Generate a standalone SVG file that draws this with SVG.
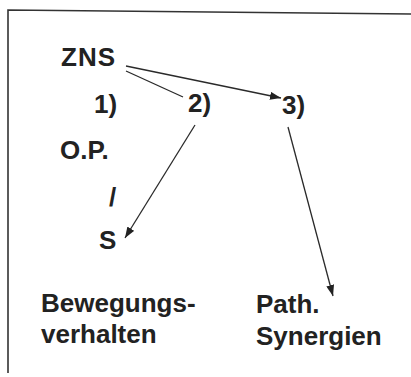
<svg xmlns="http://www.w3.org/2000/svg" width="411" height="377" viewBox="0 0 411 377">
  <defs>
    <style>
      .t { font-family: "Liberation Sans", Arial, sans-serif; font-weight: bold; font-size: 26px; fill: #222; }
      .c { stroke: #2a2a2a; stroke-width: 1.3; fill: none; }
      .frame { stroke: #333; stroke-width: 1.6; fill: none; }
    </style>
    <marker id="ah" markerUnits="userSpaceOnUse" markerWidth="11" markerHeight="8" refX="11" refY="4" orient="auto">
      <path d="M0,0 L11,4 L0,8 z" fill="#222"/>
    </marker>
  </defs>
  <rect width="411" height="377" fill="#fff"/>
  <path class="frame" d="M8,373 L8,10 L411,14"/>
  <g id="n-zns"><text class="t" x="61" y="66" letter-spacing="1">ZNS</text></g>
  <g id="n-1"><text class="t" x="94" y="113">1)</text></g>
  <g id="n-2"><text class="t" x="188" y="112">2)</text></g>
  <g id="n-3"><text class="t" x="282" y="114">3)</text></g>
  <g id="n-op"><text class="t" x="60" y="159">O.P.</text></g>
  <g id="n-slash"><text class="t" x="109" y="206">/</text></g>
  <g id="n-s"><text class="t" x="99" y="249">S</text></g>
  <g id="n-bew"><text class="t" x="41" y="312">Bewegungs-</text><text class="t" x="41" y="343">verhalten</text></g>
  <g id="n-path"><text class="t" x="256" y="313">Path.</text><text class="t" x="256" y="345">Synergien</text></g>
  <g id="connectors">
    <line class="c" x1="126" y1="71" x2="183" y2="97"/>
    <line class="c" x1="126" y1="66" x2="281" y2="98" marker-end="url(#ah)"/>
    <line class="c" x1="195" y1="125" x2="125" y2="238" marker-end="url(#ah)"/>
    <line class="c" x1="288" y1="127" x2="333" y2="296" marker-end="url(#ah)"/>
  </g>
</svg>
